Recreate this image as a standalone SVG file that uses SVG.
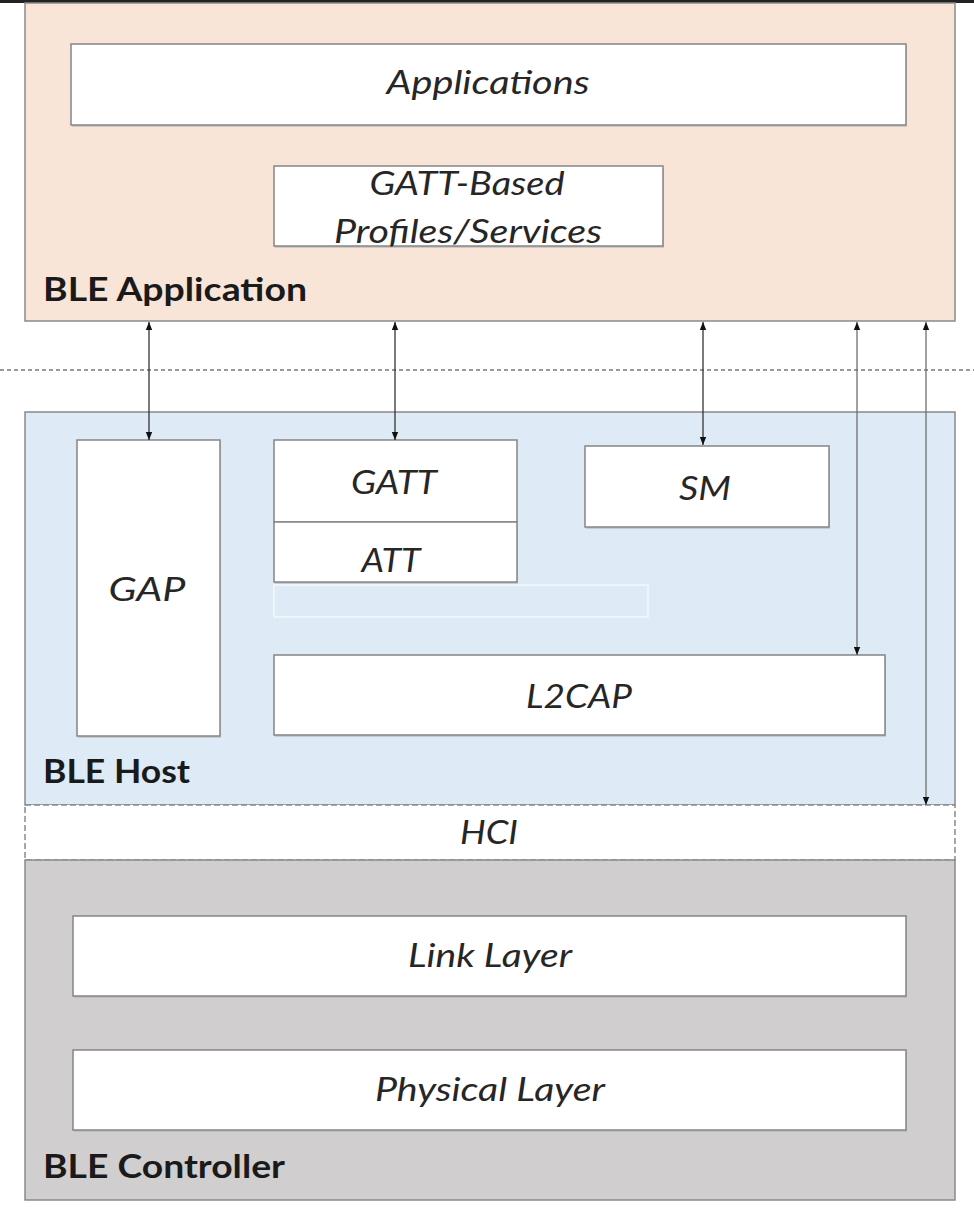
<svg xmlns="http://www.w3.org/2000/svg" width="974" height="1210" viewBox="0 0 974 1210">
<style>
.box{fill:#ffffff;stroke:#858585;stroke-width:1.5}
.sh{fill:#b5b5b5;opacity:0.6}
.lbl{font-family:Lato,"Open Sans",sans-serif;font-style:italic;font-size:32px;fill:#262626;text-anchor:middle}
.grp{font-family:Lato,"Open Sans",sans-serif;font-weight:bold;font-size:33px;fill:#1a1a1a}
.conn{stroke:#333333;stroke-width:1.3;fill:none}
.connl{stroke:#6f6f6f;stroke-width:1.3;fill:none}
</style>
<defs>
<marker id="ah" viewBox="0 0 10 10" refX="10" refY="5" markerWidth="8" markerHeight="8" orient="auto-start-reverse" markerUnits="userSpaceOnUse">
<path d="M0,1 L10,5 L0,9 z" fill="#111111"/>
</marker>
</defs>
<rect width="974" height="1210" fill="#ffffff"/>
<line x1="0" y1="1.5" x2="974" y2="1.5" stroke="#222" stroke-width="3"/>
<g id="ble-application">
<rect x="25" y="3" width="930" height="318" fill="#f8e5d8" stroke="#8a8a8a" stroke-width="1.5"/>
<text class="grp" x="43" y="301" textLength="264" lengthAdjust="spacingAndGlyphs">BLE Application</text>
</g>
<g id="applications">
<rect class="sh" x="72" y="46" width="835" height="81"/>
<rect class="box" x="71" y="44" width="835" height="81"/>
<text class="lbl" x="488" y="94" textLength="203" lengthAdjust="spacingAndGlyphs">Applications</text>
</g>
<g id="gatt-profiles">
<rect class="sh" x="275" y="168" width="389" height="80"/>
<rect class="box" x="274" y="166" width="389" height="80"/>
<text class="lbl" x="467" y="195" textLength="195" lengthAdjust="spacingAndGlyphs">GATT-Based</text>
<text class="lbl" x="468" y="243" textLength="268" lengthAdjust="spacingAndGlyphs">Profiles/Services</text>
</g>
<line x1="0" y1="370" x2="974" y2="370" stroke="#777" stroke-width="1.5" stroke-dasharray="4,3"/>
<g id="ble-host">
<rect x="25" y="412" width="930" height="393" fill="#deeaf6" stroke="#8a8a8a" stroke-width="1.5"/>
<text class="grp" x="43" y="783" textLength="147" lengthAdjust="spacingAndGlyphs">BLE Host</text>
<rect x="274" y="585" width="374" height="32" fill="none" stroke="#f4f8fc" stroke-width="1.5"/>
</g>
<g id="gap">
<rect class="sh" x="78" y="442" width="143" height="296"/>
<rect class="box" x="77" y="440" width="143" height="296"/>
<text class="lbl" x="147" y="601" textLength="77" lengthAdjust="spacingAndGlyphs">GAP</text>
</g>
<g id="gatt">
<rect class="box" x="274" y="440" width="243" height="82"/>
<text class="lbl" x="394" y="494" textLength="86" lengthAdjust="spacingAndGlyphs">GATT</text>
</g>
<g id="att">
<rect class="sh" x="275" y="524" width="243" height="60"/>
<rect class="box" x="274" y="522" width="243" height="60"/>
<text class="lbl" x="391" y="572" textLength="59" lengthAdjust="spacingAndGlyphs">ATT</text>
</g>
<g id="sm">
<rect class="sh" x="586" y="448" width="244" height="81"/>
<rect class="box" x="585" y="446" width="244" height="81"/>
<text class="lbl" x="705" y="500" textLength="52" lengthAdjust="spacingAndGlyphs">SM</text>
</g>
<g id="l2cap">
<rect class="sh" x="275" y="657" width="611" height="80"/>
<rect class="box" x="274" y="655" width="611" height="80"/>
<text class="lbl" x="579" y="708" textLength="106" lengthAdjust="spacingAndGlyphs">L2CAP</text>
</g>
<g id="hci">
<rect x="25" y="805" width="930" height="55" fill="#ffffff" stroke="#8a8a8a" stroke-width="1.5" stroke-dasharray="6,3"/>
<text class="lbl" x="489" y="844" textLength="58" lengthAdjust="spacingAndGlyphs">HCI</text>
</g>
<g id="ble-controller">
<rect x="25" y="860" width="930" height="340" fill="#d0cecf" stroke="#8a8a8a" stroke-width="1.5"/>
<text class="grp" x="43" y="1178" textLength="242" lengthAdjust="spacingAndGlyphs">BLE Controller</text>
</g>
<g id="link-layer">
<rect class="sh" x="74" y="918" width="833" height="80"/>
<rect class="box" x="73" y="916" width="833" height="80"/>
<text class="lbl" x="490" y="967" textLength="164" lengthAdjust="spacingAndGlyphs">Link Layer</text>
</g>
<g id="physical-layer">
<rect class="sh" x="74" y="1052" width="833" height="80"/>
<rect class="box" x="73" y="1050" width="833" height="80"/>
<text class="lbl" x="490" y="1101" textLength="230" lengthAdjust="spacingAndGlyphs">Physical Layer</text>
</g>
<g id="connectors">
<line class="conn" x1="149" y1="322" x2="149" y2="440" marker-start="url(#ah)" marker-end="url(#ah)"/>
<line class="conn" x1="395" y1="322" x2="395" y2="440" marker-start="url(#ah)" marker-end="url(#ah)"/>
<line class="conn" x1="703" y1="322" x2="703" y2="445" marker-start="url(#ah)" marker-end="url(#ah)"/>
<line class="connl" x1="857" y1="322" x2="857" y2="655" marker-start="url(#ah)" marker-end="url(#ah)"/>
<line class="connl" x1="926" y1="322" x2="926" y2="805" marker-start="url(#ah)" marker-end="url(#ah)"/>
</g>
</svg>
